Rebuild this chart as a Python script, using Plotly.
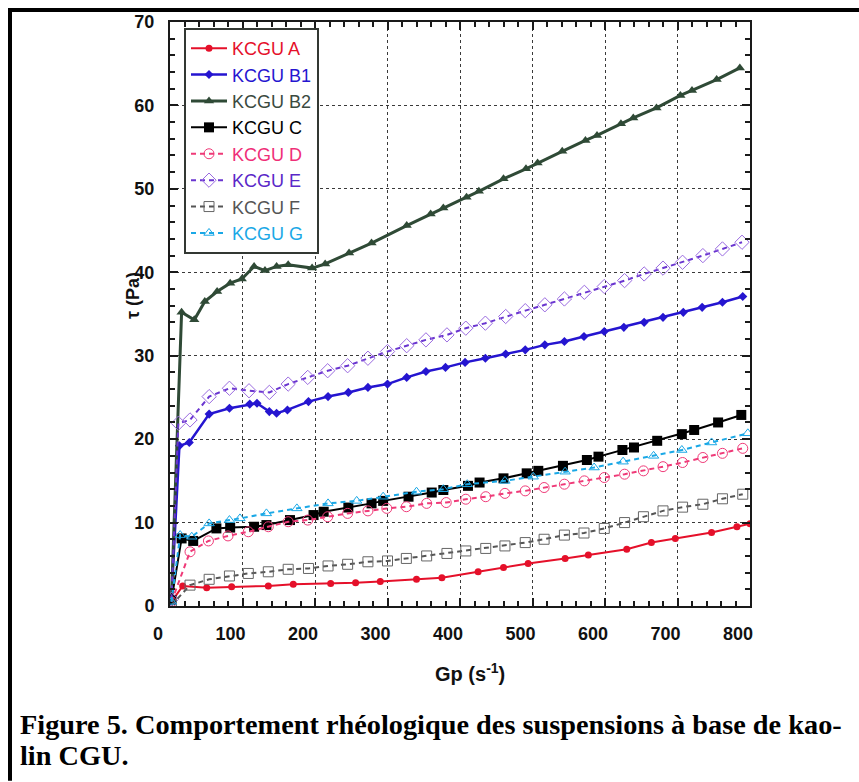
import plotly.graph_objects as go

# ---------------- data ----------------
A_x = [2, 17.5, 50.6, 85, 135.6, 170, 221.6, 256, 290, 340, 375, 425, 460, 494, 545, 577, 630, 664, 697, 747, 782, 800]
A_y = [0.5, 2.4, 2.2, 2.3, 2.4, 2.6, 2.7, 2.8, 2.95, 3.2, 3.4, 4.1, 4.6, 5.1, 5.7, 6.1, 6.8, 7.6, 8.1, 8.8, 9.5, 9.85]

B1_x = [2, 13, 26.6, 54, 82, 110, 120, 137, 147, 162, 191, 218, 246, 273, 300, 326.5, 353, 380, 407, 435,
        463, 490, 517, 544, 571, 599, 626, 654, 680, 708, 734, 762, 790]
B1_y = [0.8, 19.2, 19.6, 23.0, 23.7, 24.2, 24.3, 23.3, 23.1, 23.5, 24.5, 25.1, 25.6, 26.2, 26.6, 27.4, 28.1, 28.6, 29.2, 29.7,
        30.2, 30.7, 31.3, 31.7, 32.3, 32.9, 33.4, 34.0, 34.6, 35.2, 35.8, 36.4, 37.1]

B2_x = [2, 16, 33.5, 48, 65, 83, 99, 116, 131, 147, 163, 196, 214, 247, 278, 326.5, 359.5, 377, 409, 426,
        460, 491, 507, 541, 573, 589, 622, 639, 671, 704, 720, 754, 786]
B2_y = [1.0, 35.2, 34.3, 36.5, 37.7, 38.7, 39.2, 40.7, 40.2, 40.7, 40.9, 40.5, 41.0, 42.3, 43.5, 45.6, 47.0, 47.7, 49.0, 49.7,
        51.2, 52.4, 53.1, 54.5, 55.8, 56.4, 57.8, 58.5, 59.7, 61.2, 61.8, 63.1, 64.5]

C_x = [2, 16, 32, 64, 83, 116, 133, 165.5, 198, 212, 246, 278, 294, 329, 361, 377, 411, 427, 460, 492,
       508, 542, 575, 591, 624, 640, 672, 706, 723, 756, 788]
C_y = [0.7, 8.1, 7.8, 9.3, 9.4, 9.5, 9.7, 10.3, 10.9, 11.3, 11.8, 12.3, 12.6, 13.1, 13.6, 13.9, 14.4, 14.8, 15.3, 15.9,
       16.2, 16.8, 17.5, 17.9, 18.7, 19.0, 19.8, 20.6, 21.1, 22.0, 22.9]

D_x = [2, 27.6, 53, 80, 108, 135.6, 163, 190, 217.5, 245, 273, 299, 326, 354, 381, 408, 435.5, 462, 490, 516,
       544, 571.5, 599, 627, 653, 680, 707, 735, 762, 790]
D_y = [0.5, 6.5, 7.8, 8.4, 8.9, 9.5, 10.1, 10.3, 10.7, 11.1, 11.4, 11.7, 11.9, 12.3, 12.4, 12.8, 13.1, 13.5, 13.8, 14.2,
       14.6, 15.0, 15.4, 15.8, 16.2, 16.7, 17.2, 17.8, 18.3, 18.9]

E_x = [2, 11.5, 27.6, 54, 82, 109, 137, 163, 190, 217.5, 245, 273, 300, 326.5, 353, 382, 408, 435, 463, 490,
       517, 544, 571.5, 599, 627, 654, 680, 707, 735, 762, 789]
E_y = [0.8, 21.9, 22.3, 25.1, 26.1, 25.8, 25.6, 26.6, 27.4, 28.2, 28.8, 29.7, 30.5, 31.2, 31.9, 32.5, 33.3, 33.9, 34.7, 35.4,
       36.1, 36.8, 37.6, 38.3, 39.0, 39.8, 40.5, 41.2, 42.0, 42.8, 43.6]

F_x = [2, 27.6, 54, 82, 108, 135.6, 163, 191, 218, 245, 273, 300, 326, 354, 382, 408, 435.5, 462, 490, 516,
       544, 571, 599, 627, 653, 680, 707, 735, 762, 790]
F_y = [0.1, 2.5, 3.2, 3.6, 3.9, 4.1, 4.4, 4.5, 4.8, 5.0, 5.3, 5.4, 5.7, 6.0, 6.3, 6.6, 6.9, 7.2, 7.6, 8.0,
       8.5, 8.75, 9.3, 10.0, 10.7, 11.4, 11.85, 12.2, 12.85, 13.4]

G_x = [2, 14, 30, 54, 82, 96.5, 133, 175, 218, 257.5, 294, 340, 377, 410, 462, 501, 545, 585, 625, 667, 706, 747, 797]
G_y = [0.5, 8.5, 8.3, 9.9, 10.3, 10.5, 11.1, 11.7, 12.3, 12.6, 13.1, 13.7, 14.0, 14.6, 15.0, 15.5, 16.1, 16.6, 17.3, 18.0,
       18.7, 19.6, 20.7]

series_names = ["KCGU A", "KCGU B1", "KCGU B2", "KCGU C", "KCGU D", "KCGU E", "KCGU F", "KCGU G"]
x_ticks = [0, 100, 200, 300, 400, 500, 600, 700, 800]
y_ticks = [0, 10, 20, 30, 40, 50, 60, 70]

x_title = "Gp (s<sup>-1</sup>)"
y_title = "τ (Pa)"
caption_1 = "Figure 5. Comportement rhéologique des suspensions à base de kao-"
caption_2 = "lin CGU."

DASH = "5px,4px"

# ---------------- styles ----------------
styles = [
    dict(x=A_x, y=A_y, line=dict(color="#e5102a", width=2), marker=dict(symbol="circle", size=7, color="#e5102a"),
         text="#e5102a"),
    dict(x=B1_x, y=B1_y, line=dict(color="#2515d0", width=2.5), marker=dict(symbol="diamond", size=7, color="#2515d0"),
         text="#2515d0"),
    dict(x=B2_x, y=B2_y, line=dict(color="#2f4a36", width=3), marker=dict(symbol="triangle-up", size=9, color="#2f4a36"),
         text="#3a4a40"),
    dict(x=C_x, y=C_y, line=dict(color="#000000", width=2), marker=dict(symbol="square", size=10, color="#000000"),
         text="#000000"),
    dict(x=D_x, y=D_y, line=dict(color="#ef3a78", width=2, dash=DASH),
         marker=dict(symbol="circle-open", size=10, color="#ef3a78", line=dict(width=1)), text="#ef2f78"),
    dict(x=E_x, y=E_y, line=dict(color="#6a35d0", width=2, dash=DASH),
         marker=dict(symbol="diamond-open", size=11, color="#9a6ae0", line=dict(width=1)), text="#5a28c8"),
    dict(x=F_x, y=F_y, line=dict(color="#555555", width=2, dash=DASH),
         marker=dict(symbol="square-open", size=10, color="#666666", line=dict(width=1)), text="#555555"),
    dict(x=G_x, y=G_y, line=dict(color="#1aa8e6", width=2, dash=DASH),
         marker=dict(symbol="triangle-up-open", size=9, color="#1aa8e6", line=dict(width=1)), text="#1aa8e6"),
]

fig = go.Figure()
for name, s in zip(series_names, styles):
    fig.add_trace(go.Scatter(
        x=s["x"], y=s["y"], mode="lines+markers",
        name=f"<span style='color:{s['text']}'>{name}</span>",
        line=s["line"], marker=s["marker"],
    ))

W, H = 859, 782
L, R, T, B = 170, 109, 18, 176
pw, ph = W - L - R, H - T - B


def px_x(p):
    return (p - L) / pw


def px_y(p):
    return (H - B - p) / ph


axis_common = dict(
    showline=True, linecolor="#1a1a1a", linewidth=2, mirror="allticks",
    ticks="inside", ticklen=8, tickwidth=1.5, tickcolor="#1a1a1a",
    showgrid=True, gridcolor="#3a3a3a", gridwidth=1, griddash="dot",
    zeroline=False,
    tickfont=dict(family="Liberation Sans, Arial", size=18, color="#111111", weight="bold"),
)

fig.update_xaxes(range=[0, 800], tickvals=x_ticks, ticklabelstandoff=10, ticklabelshift=-12,
                 minor=dict(dtick=20, ticks="inside", ticklen=5, tickcolor="#1a1a1a", showgrid=False),
                 **axis_common)
fig.update_yaxes(range=[0, 70], tickvals=y_ticks, ticklabelstandoff=10,
                 minor=dict(dtick=2, ticks="inside", ticklen=5, tickcolor="#1a1a1a", showgrid=False),
                 **axis_common)

fig.update_layout(
    width=W, height=H,
    margin=dict(l=L, r=R, t=T, b=B, pad=0),
    paper_bgcolor="white", plot_bgcolor="white",
    showlegend=True,
    legend=dict(
        x=px_x(184), y=px_y(24), xanchor="left", yanchor="top",
        bgcolor="white", bordercolor="#333833", borderwidth=2,
        font=dict(family="Liberation Sans, Arial", size=18, color="#000000"),
        tracegroupgap=0, itemwidth=36,
    ),
    annotations=[
        dict(text=x_title, xref="paper", yref="paper", x=px_x(470), y=px_y(673),
             xanchor="center", yanchor="middle", showarrow=False,
             font=dict(family="Liberation Sans, Arial", size=20, color="#111111", weight="bold")),
        dict(text=y_title, xref="paper", yref="paper", x=px_x(133), y=px_y(294),
             xanchor="center", yanchor="middle", showarrow=False, textangle=-90,
             font=dict(family="Liberation Sans, Arial", size=18, color="#111111", weight="bold")),
        dict(text=caption_1, xref="paper", yref="paper", x=px_x(18), y=px_y(725),
             xanchor="left", yanchor="middle", showarrow=False,
             font=dict(family="Liberation Serif, serif", size=28.3, color="#000000", weight="bold")),
        dict(text=caption_2, xref="paper", yref="paper", x=px_x(18), y=px_y(757),
             xanchor="left", yanchor="middle", showarrow=False,
             font=dict(family="Liberation Serif, serif", size=28.3, color="#000000", weight="bold")),
    ],
    shapes=[
        dict(type="line", xref="paper", yref="paper", x0=px_x(10), x1=px_x(10), y0=px_y(4), y1=px_y(782),
             line=dict(color="black", width=4)),
        dict(type="line", xref="paper", yref="paper", x0=px_x(8), x1=px_x(859), y0=px_y(6), y1=px_y(6),
             line=dict(color="black", width=4)),
    ],
)

fig.write_html("out.html")
